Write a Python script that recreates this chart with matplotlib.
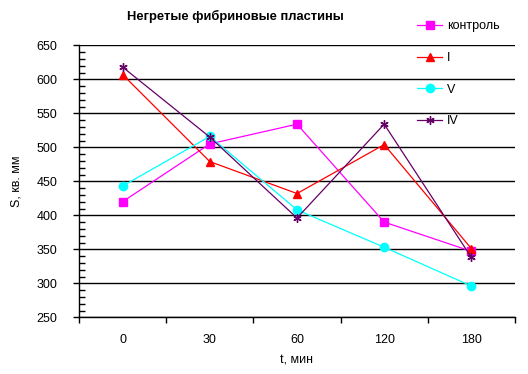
import matplotlib
matplotlib.use('Agg')
import matplotlib.pyplot as plt
from matplotlib.ticker import MultipleLocator, FixedLocator, NullFormatter

plt.rcParams['font.family'] = ['Liberation Sans', 'DejaVu Sans']

# данные
categories = ['0', '30', '60', '120', '180']
control = [420, 505, 534, 390, 347]
series_i = [607, 479, 432, 504, 351]
series_v = [443, 516, 408, 353, 296]
series_iv = [618, 515, 396, 534, 338]

fig = plt.figure(figsize=(5.28, 3.74), dpi=100)
ax = fig.add_axes([79 / 528, 1 - 317.3 / 374, 436 / 528, 272 / 374])

x = list(range(len(categories)))
ax.plot(x, control, color='#FF00FF', lw=0.9, marker='s', ms=6, label='контроль', zorder=3)
ax.plot(x, series_i, color='#FF0000', lw=0.9, marker='^', ms=6, label='I', zorder=3)
ax.plot(x, series_v, color='#00FFFF', lw=0.9, marker='o', ms=6, label='V', zorder=3)
ax.plot(x, series_iv, color='#660066', lw=0.9, marker=(6, 2, 0), ms=6, mew=1, label='IV', zorder=3)

ax.set_xlim(-0.5, 4.5)
ax.set_ylim(250, 650)

# ось Y: сетка, основные и вспомогательные деления
ax.yaxis.set_major_locator(MultipleLocator(50))
ax.yaxis.set_minor_locator(MultipleLocator(10))
ax.tick_params(axis='y', which='major', direction='out', length=4.5, width=1,
               labelsize=9, pad=11, color='black')
ax.tick_params(axis='y', which='minor', direction='in', length=4, width=1, color='black')
ax.grid(axis='y', which='major', color='black', lw=1, zorder=1)

# ось X: деления на границах категорий, подписи по центру
ax.xaxis.set_major_locator(FixedLocator([-0.5, 0.5, 1.5, 2.5, 3.5, 4.5]))
ax.xaxis.set_major_formatter(NullFormatter())
ax.xaxis.set_minor_locator(FixedLocator(x))
ax.set_xticklabels(categories, minor=True)
ax.tick_params(axis='x', which='major', direction='out', length=4.5, width=1, color='black')
ax.tick_params(axis='x', which='minor', length=0, labelsize=9, pad=12)

for s in ['top', 'right']:
    ax.spines[s].set_visible(False)
for s in ['left', 'bottom']:
    ax.spines[s].set_linewidth(1)

ax.set_xlabel('t, мин', fontsize=9, labelpad=6)
ax.set_ylabel('S, кв. мм', fontsize=9, labelpad=10)

fig.text(235 / 528, 1 - 16.5 / 374, 'Негретые фибриновые пластины', ha='center', va='center',
         fontsize=9.3, fontweight='bold')

leg = ax.legend(loc='upper left', bbox_to_anchor=(411 / 528, 1 - 14 / 374),
                bbox_transform=fig.transFigure, frameon=False, fontsize=9,
                labelspacing=1.58, handlelength=2.0, handletextpad=0.35, borderpad=0)

fig.savefig('out.png', dpi=100)
